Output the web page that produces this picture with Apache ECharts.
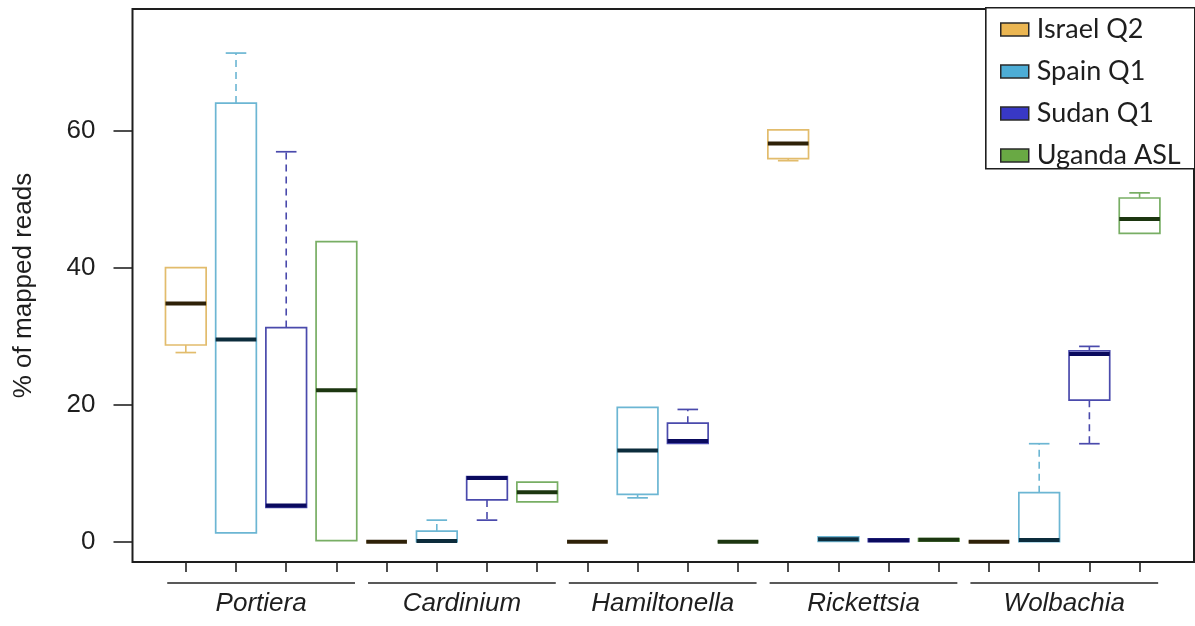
<!DOCTYPE html>
<html><head><meta charset="utf-8">
<script src="https://cdn.jsdelivr.net/npm/echarts@6/dist/echarts.min.js"></script>
<style>html,body{margin:0;padding:0;background:#fff}#c{width:1195px;height:626px}</style>
</head><body><div id="c"></div>
<script>
const genera = ['Portiera', 'Cardinium', 'Hamiltonella', 'Rickettsia', 'Wolbachia'];
const populations = ['Israel Q2', 'Spain Q1', 'Sudan Q1', 'Uganda ASL'];
// each entry: [min, Q1, median, Q3, max] for the genera in order
const israelQ2 = [
  [27.6, 28.7, 34.75, 40.0, 40.0],
  [0, 0, 0, 0, 0],
  [0, 0, 0, 0, 0],
  [55.6, 55.9, 58.1, 60.1, 60.1],
  [0, 0, 0, 0, 0]
];
const spainQ1 = [
  [1.3, 1.3, 29.5, 64.0, 71.3],
  [0, 0, 0.1, 1.55, 3.15],
  [6.4, 6.9, 13.3, 19.6, 19.6],
  [0.05, 0.05, 0.35, 0.7, 0.7],
  [0, 0, 0.25, 7.15, 14.3]
];
const sudanQ1 = [
  [5.0, 5.0, 5.3, 31.25, 56.9],
  [3.15, 6.1, 9.3, 9.5, 9.5],
  [14.35, 14.35, 14.7, 17.3, 19.3],
  [0, 0, 0.2, 0.4, 0.4],
  [14.3, 20.65, 27.4, 27.85, 28.5]
];
const ugandaASL = [
  [0.15, 0.15, 22.1, 43.8, 43.8],
  [5.8, 5.8, 7.2, 8.7, 8.7],
  [0, 0, 0, 0, 0],
  [0.1, 0.1, 0.3, 0.45, 0.45],
  [45.0, 45.0, 47.1, 50.15, 50.9]
];
const yTicks = [0, 20, 40, 60];

const allSeries = [israelQ2, spainQ1, sudanQ1, ugandaASL];
const styles = [
  { fill: '#EBB652', line: '#E2BC6C', median: '#2E2108' },
  { fill: '#4DADD6', line: '#6CB6D3', median: '#0C2C3C' },
  { fill: '#3838C6', line: '#4A4AAC', median: '#0A0A5E' },
  { fill: '#69A944', line: '#78AE64', median: '#1C3610' }
];
const nPop = populations.length;
const xTickValues = [];
for (let i = 1; i <= genera.length * nPop; i++) xTickValues.push(i);
const Y_MIN = -2.96, Y_MAX = 77.73;
const FONT = '"Liberation Sans", Arial, sans-serif';

function boxRender(st) {
  return function (params, api) {
    const x = api.value(0);
    const mn = api.value(1), q1 = api.value(2), md = api.value(3), q3 = api.value(4), mx = api.value(5);
    const hw = 0.405, cw = 0.205;
    const ln = (a, b, s) => ({ type: 'line', shape: { x1: a[0], y1: a[1], x2: b[0], y2: b[1] }, style: s });
    const ch = [];
    if (mx > q3) {
      ch.push(ln(api.coord([x, q3]), api.coord([x, mx]), { stroke: st.line, lineWidth: 1.6, lineDash: [7, 5] }));
      ch.push(ln(api.coord([x - cw, mx]), api.coord([x + cw, mx]), { stroke: st.line, lineWidth: 1.7 }));
    }
    if (mn < q1) {
      ch.push(ln(api.coord([x, q1]), api.coord([x, mn]), { stroke: st.line, lineWidth: 1.6, lineDash: [7, 5] }));
      ch.push(ln(api.coord([x - cw, mn]), api.coord([x + cw, mn]), { stroke: st.line, lineWidth: 1.7 }));
    }
    const tl = api.coord([x - hw, q3]), br = api.coord([x + hw, q1]);
    ch.push({ type: 'rect', shape: { x: tl[0], y: tl[1], width: br[0] - tl[0], height: br[1] - tl[1] },
      style: { fill: 'none', stroke: st.line, lineWidth: 1.7 } });
    ch.push(ln(api.coord([x - hw, md]), api.coord([x + hw, md]), { stroke: st.median, lineWidth: 4 }));
    return { type: 'group', children: ch };
  };
}

const series = populations.map((name, p) => ({
  name: name,
  type: 'custom',
  itemStyle: { color: styles[p].fill },
  encode: { x: 0, y: [1, 2, 3, 4, 5] },
  data: allSeries[p].map((v, g) => [g * nPop + p + 1].concat(v)),
  renderItem: boxRender(styles[p]),
  silent: true
}));

series.push({
  name: 'groups',
  type: 'custom',
  clip: false,
  silent: true,
  encode: { x: [0, 1], y: 2 },
  data: genera.map((g, i) => [i * nPop + 1, i * nPop + nPop, Y_MIN]),
  renderItem: function (params, api) {
    const a = api.coord([api.value(0) - 0.37, api.value(2)]);
    const b = api.coord([api.value(1) + 0.37, api.value(2)]);
    return { type: 'group', children: [
      { type: 'line', shape: { x1: a[0], y1: a[1] + 21, x2: b[0], y2: b[1] + 21 }, style: { stroke: '#222', lineWidth: 1.6 } },
      { type: 'text', x: (a[0] + b[0]) / 2, y: a[1] + 42,
        style: { text: genera[params.dataIndex], align: 'center', verticalAlign: 'middle',
          fontSize: 26, fontStyle: 'italic', fontFamily: FONT, fill: '#1e1e1e' } }
    ] };
  }
});

const chart = echarts.init(document.getElementById('c'));
chart.setOption({
  animation: false,
  backgroundColor: '#fff',
  grid: { left: 132.5, top: 9, right: 1, bottom: 64, show: true, borderColor: '#1e1e1e', borderWidth: 2, backgroundColor: 'transparent' },
  xAxis: {
    type: 'value', min: -0.062, max: 21.084,
    splitLine: { show: false },
    axisLine: { show: false, onZero: false },
    axisTick: { show: true, inside: false, customValues: xTickValues, length: 10, lineStyle: { color: '#222', width: 1.6 } },
    axisLabel: { show: false, customValues: xTickValues }
  },
  yAxis: {
    type: 'value', min: Y_MIN, max: Y_MAX,
    name: '% of mapped reads', nameLocation: 'middle', nameGap: 96,
    nameTextStyle: { fontSize: 26, fontFamily: FONT, color: '#1e1e1e' },
    splitLine: { show: false },
    axisLine: { show: false, onZero: false },
    axisTick: { show: true, customValues: yTicks, length: 19, lineStyle: { color: '#222', width: 1.6 } },
    axisLabel: { customValues: yTicks, margin: 37, fontSize: 26, fontFamily: FONT, color: '#1e1e1e' }
  },
  graphic: [{ type: 'rect', left: 985, top: 7, z: 50, shape: { width: 209, height: 161 },
    style: { fill: '#fff', stroke: '#1e1e1e', lineWidth: 1.6 } }],
  legend: {
    data: populations, orient: 'vertical', left: 1000, top: 16, padding: 0, z: 60,
    itemGap: 15, itemWidth: 28, itemHeight: 13, icon: 'rect',
    itemStyle: { borderColor: '#2a2a2a', borderWidth: 1.5 },
    textStyle: { fontSize: 27, fontFamily: 'Lato, "Open Sans", sans-serif', color: '#1e1e1e', lineHeight: 26, padding: [0, 0, 0, 3] },
    selectedMode: false
  },
  series: series
});
</script></body></html>
